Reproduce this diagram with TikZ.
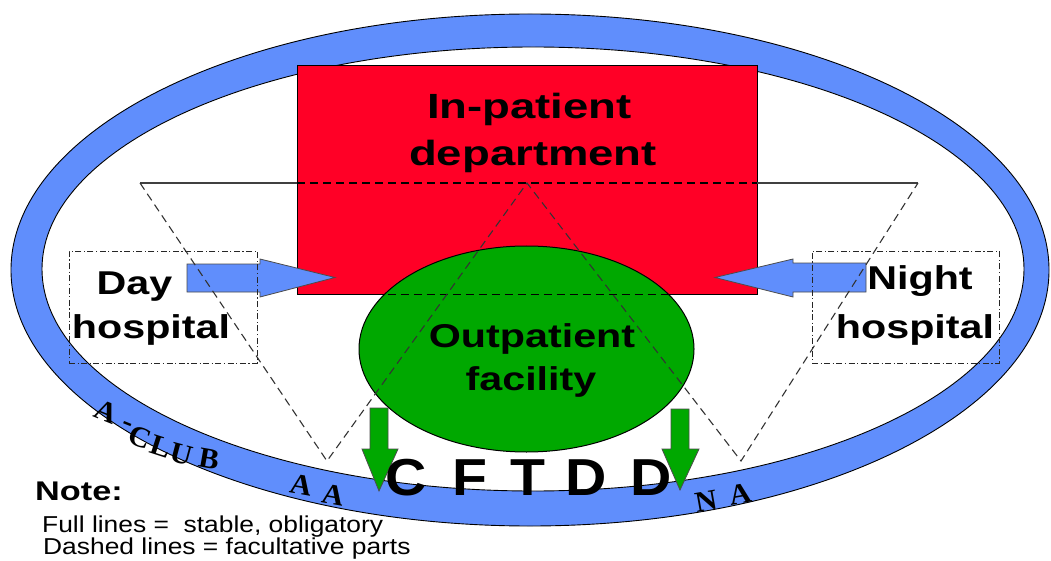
\documentclass[tikz,border=0pt]{standalone}
\usepackage{fontspec}
\setmainfont{Liberation Sans}
\newfontfamily\serifrm{Liberation Serif}
\usepackage{graphicx}
\usetikzlibrary{shapes.geometric}
\definecolor{ringblue}{RGB}{96,142,252}
\definecolor{inred}{RGB}{255,0,38}
\definecolor{outgreen}{RGB}{0,168,0}
\newcommand\sx[2]{\scalebox{#1}[1]{#2}}
\tikzset{
  big/.style={font=\bfseries\fontsize{33}{33}\selectfont, inner sep=0pt, anchor=base},
  huge/.style={font=\bfseries\fontsize{52}{52}\selectfont, inner sep=0pt, anchor=base},
  small/.style={font=\fontsize{23}{23}\selectfont, inner sep=0pt, anchor=base west},
  dline/.style={draw=black!80, line width=1.1pt, dash pattern=on 8pt off 5pt},
  sline/.style={draw=black!75, line width=1.1pt},
  dotbox/.style={draw=black!85, line width=0.9pt, dash pattern=on 6pt off 2.5pt on 1.2pt off 2.5pt},
  barrow/.style={fill=ringblue, draw=black!70, line width=0.8pt},
  garrow/.style={fill=outgreen, draw=black!70, line width=0.8pt},
  ringl/.style={font=\serifrm\bfseries\fontsize{29}{29}\selectfont, inner sep=0pt},
}
\begin{document}
\begin{tikzpicture}[x=1pt,y=-1pt]
\useasboundingbox[fill=white] (0,0) rectangle (1051,561);
% ring
\draw[fill=ringblue, draw=black, line width=0.9pt] (530,270) ellipse [x radius=519pt, y radius=256pt];
\draw[fill=white, draw=black, line width=0.9pt] (533,269) ellipse [x radius=491pt, y radius=222pt];
% in-patient rectangle
\node[draw=black, line width=1pt, fill=inred, minimum width=460pt, minimum height=228pt, inner sep=0pt] (inp) at (527,180) {};
% outpatient ellipse
\node[ellipse, draw=black, line width=1pt, fill=outgreen, minimum width=335pt, minimum height=206pt, inner sep=0pt] (outp) at (526.5,349) {};
\begin{scope}
  \clip (526.5,349) ellipse [x radius=167.5pt, y radius=103pt];
  \draw[dline, draw=black] (inp.south west) -- (inp.south east);
\end{scope}
% blue arrows
\draw[barrow] (187,264) -- (260,264) -- (260,259) -- (335,277.5) -- (260,297) -- (260,292) -- (187,292) -- cycle;
\draw[barrow] (866,263) -- (793,263) -- (793,259) -- (715,277.5) -- (793,297) -- (793,292) -- (866,292) -- cycle;
% green arrows
\draw[garrow] (370,408) -- (388,408) -- (388,449) -- (398,449) -- (379,491) -- (362,449) -- (370,449) -- cycle;
\draw[garrow] (671,409) -- (689,409) -- (689,449) -- (699,449) -- (680,490) -- (662,449) -- (671,449) -- cycle;
% dash-dot boxes
\node[dotbox, minimum width=188pt, minimum height=112pt, inner sep=0pt] (daybox) at (163,307) {};
\node[dotbox, minimum width=187pt, minimum height=112pt, inner sep=0pt] (nightbox) at (905.5,307) {};
% triangles
\coordinate (tl) at (140,183);
\coordinate (tm) at (527,183);
\coordinate (tr) at (918,183);
\coordinate (al) at (327,461);
\coordinate (ar) at (741,461);
\coordinate (rl) at (297,183);
\coordinate (rr) at (757,183);
\draw[sline] (tl) -- (rl);
\draw[sline] (rr) -- (tr);
\draw[dline, draw=black] (rl) -- (rr);
\draw[dline] (tl) -- (al) -- (tm) -- (ar) -- (tr);
% texts
\node[big, font=\bfseries\fontsize{35}{35}\selectfont] (ip1) at (529.5,119) {\sx{1.3}{In-patient}};
\node[big, font=\bfseries\fontsize{35}{35}\selectfont] (ip2) at (533,166) {\sx{1.3}{department}};
\node[big] (op1) at (532,347) {\sx{1.25}{Outpatient}};
\node[big] (op2) at (531,390) {\sx{1.25}{facility}};
\node[big] (dh1) at (134.5,294) {\sx{1.25}{Day}};
\node[big] (dh2) at (151,338) {\sx{1.25}{hospital}};
\node[big] (nh1) at (920,289) {\sx{1.25}{Night}};
\node[big] (nh2) at (915,338) {\sx{1.25}{hospital}};
\node[huge] (c1) at (406,495) {\sx{1.1}{C}};
\node[huge] (c2) at (470,495) {\sx{1.1}{F}};
\node[huge] (c3) at (528,495) {\sx{1.1}{T}};
\node[huge] (c4) at (586,495) {\sx{1.1}{D}};
\node[huge] (c5) at (651,495) {\sx{1.1}{D}};
% ring letters
\node[ringl, rotate=-22] (r1) at (106,412) {\sx{1.05}{A}};
\node[ringl, rotate=-22] (r2) at (127,427) {\sx{1.05}{-}};
\node[ringl, rotate=-20] (r3) at (140,437) {\sx{1.05}{C}};
\node[ringl, rotate=-18] (r4) at (161,447) {\sx{1.05}{L}};
\node[ringl, rotate=-15] (r5) at (182,454) {\sx{1.05}{U}};
\node[ringl, rotate=-10] (r6) at (209,459) {\sx{1.05}{B}};
\node[ringl, rotate=-10] (a1) at (301,485) {\sx{1.05}{A}};
\node[ringl, rotate=-10] (a2) at (333,495) {\sx{1.05}{A}};
\node[ringl, rotate=10] (n1) at (706,501) {\sx{1.05}{N}};
\node[ringl, rotate=10] (n2) at (740,494) {\sx{1.05}{A}};
% note
\node[inner sep=0pt, anchor=base west, font=\bfseries\fontsize{27}{27}\selectfont] (note) at (35,500) {\sx{1.27}{Note:}};
\node[small] (full) at (42,532) {\sx{1.147}{Full lines =\ \ stable, obligatory}};
\node[small] (dash) at (43,554) {\sx{1.147}{Dashed lines = facultative parts}};
\end{tikzpicture}
\end{document}
